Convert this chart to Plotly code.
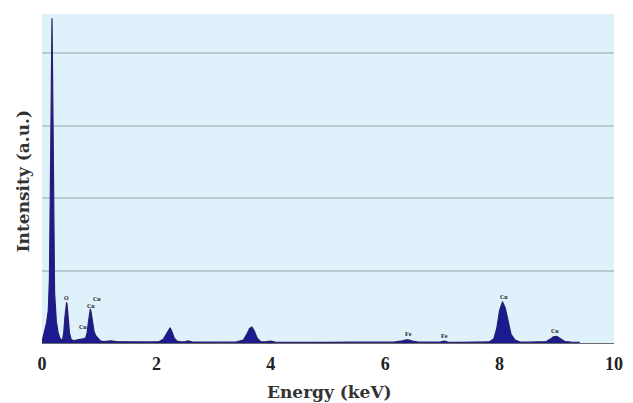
import plotly.graph_objects as go

# Spectrum outline (energy in keV, intensity in arbitrary units)
energy = [0.0, 0.02, 0.05, 0.08, 0.11, 0.13, 0.15, 0.165, 0.175, 0.185, 0.2, 0.22, 0.25, 0.28, 0.31, 0.34,
          0.36, 0.38, 0.40, 0.42, 0.43, 0.44, 0.46, 0.48, 0.51, 0.55, 0.6, 0.65, 0.7, 0.74, 0.77,
          0.79, 0.81, 0.83, 0.845, 0.86, 0.88, 0.91, 0.94, 0.98, 1.02, 1.08, 1.2, 1.3, 1.45,
          1.6, 1.75, 1.9, 2.05, 2.12, 2.17, 2.21, 2.24, 2.27, 2.31, 2.36, 2.42, 2.5, 2.55,
          2.62, 2.8, 3.0, 3.2, 3.4, 3.52, 3.58, 3.63, 3.67, 3.71, 3.76, 3.82, 3.9, 4.0,
          4.08, 4.3, 4.6, 5.0, 5.4, 5.8, 6.15, 6.3, 6.37, 6.42, 6.48, 6.58, 6.8, 6.97,
          7.03, 7.1, 7.3, 7.6, 7.82, 7.9, 7.95, 8.0, 8.05, 8.1, 8.15, 8.2, 8.27, 8.35, 8.5,
          8.7, 8.82, 8.88, 8.94, 9.0, 9.07, 9.14, 9.25, 9.4]
intensity = [0.02, 0.1, 0.18, 0.28, 0.45, 0.9, 2.2, 3.8, 4.48, 3.7, 1.8, 0.7, 0.3, 0.15, 0.07, 0.04,
             0.05, 0.14, 0.35, 0.52, 0.56, 0.52, 0.33, 0.14, 0.05, 0.03, 0.04, 0.05, 0.05, 0.06, 0.08,
             0.15, 0.28, 0.42, 0.47, 0.42, 0.28, 0.16, 0.1, 0.06, 0.03, 0.02, 0.03, 0.02, 0.015,
             0.02, 0.015, 0.015, 0.02, 0.05, 0.12, 0.18, 0.21, 0.16, 0.07, 0.025, 0.015, 0.015, 0.03,
             0.015, 0.012, 0.015, 0.012, 0.015, 0.04, 0.12, 0.2, 0.22, 0.17, 0.07, 0.02, 0.015, 0.025,
             0.012, 0.01, 0.012, 0.01, 0.012, 0.01, 0.012, 0.03, 0.045, 0.04, 0.025, 0.012, 0.01, 0.015,
             0.025, 0.012, 0.01, 0.012, 0.015, 0.06, 0.2, 0.45, 0.57, 0.48, 0.28, 0.12, 0.04, 0.015, 0.012,
             0.012, 0.02, 0.05, 0.085, 0.09, 0.06, 0.02, 0.012, 0.008]

# Peak labels: element, energy, label height
peak_names = ["C", "O", "Cu", "Cu", "Cu", "Fe", "Fe", "Cu", "Cu"]
peak_x = [0.17, 0.43, 0.71, 0.86, 0.96, 6.4, 7.03, 8.07, 8.96]
peak_y = [4.62, 0.62, 0.22, 0.51, 0.61, 0.13, 0.09, 0.63, 0.17]

x_ticks = [0, 2, 4, 6, 8, 10]

fig = go.Figure()
fig.add_trace(go.Scatter(
    x=energy, y=intensity, mode="lines", fill="tozeroy",
    line=dict(color="#2a1f6e", width=1.2),
    fillcolor="#1b1a8f", hoverinfo="skip", showlegend=False))

serif = "Liberation Serif, Times New Roman, serif"
wide_serif = "DejaVu Serif, serif"
for n, xv, yv in zip(peak_names, peak_x, peak_y):
    fig.add_annotation(x=xv, y=yv, text="<b>" + n + "</b>", showarrow=False,
                       font=dict(family=serif, size=6, color="#222222"))

fig.add_annotation(x=0.503, y=-0.15, xref="paper", yref="paper", text="<b>Energy (keV)</b>",
                   showarrow=False, yanchor="middle",
                   font=dict(family=wide_serif, size=17, color="#333333"))
fig.add_annotation(x=-0.034, y=0.49, xref="paper", yref="paper", text="<b>Intensity (a.u.)</b>",
                   showarrow=False, textangle=-90, xanchor="center", yanchor="middle",
                   font=dict(family=wide_serif, size=17, color="#333333"))

fig.update_layout(
    width=633, height=403,
    margin=dict(l=42, r=10, t=14, b=60),
    paper_bgcolor="white", plot_bgcolor="#dff1fa",
    xaxis=dict(range=[0, 10], tickvals=x_ticks, ticktext=["<b>%d</b>" % t for t in x_ticks],
               showgrid=False, zeroline=False, showline=False, ticks="",
               ticklabelstandoff=8, ticklabeloverflow="allow",
               tickfont=dict(family=serif, size=18, color="#222222")),
    yaxis=dict(range=[0, 4.54], dtick=1, showticklabels=False, showgrid=True,
               gridcolor="#b8cad2", gridwidth=1.5, zeroline=True, zerolinecolor="#6b6b6b",
               zerolinewidth=1, showline=False, ticks=""),
)

fig.write_html("out.html", config={"displayModeBar": False},
               post_script="document.body.style.margin='0';")
